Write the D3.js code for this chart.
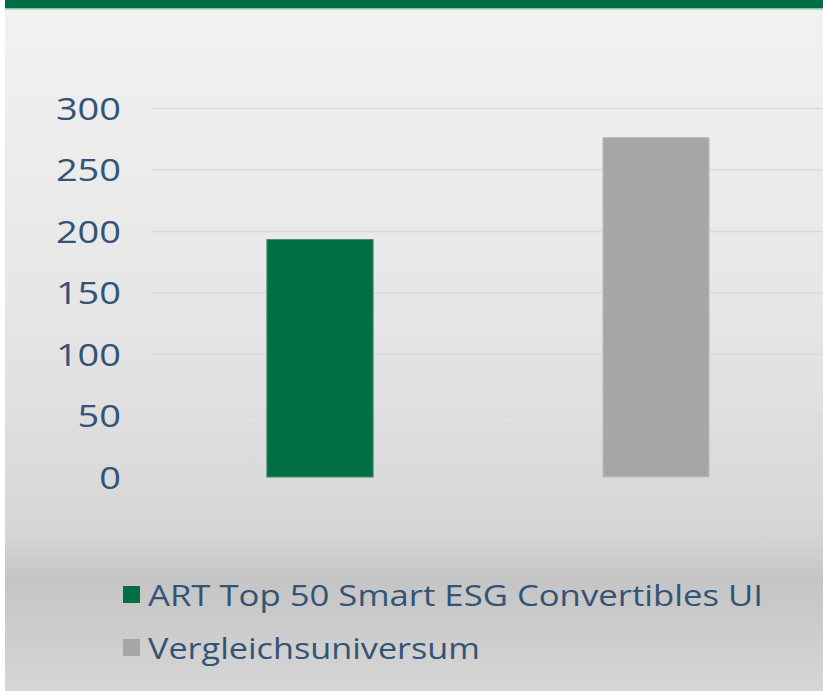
<!DOCTYPE html>
<html><head><meta charset="utf-8">
<script src="https://cdn.jsdelivr.net/npm/d3@7"></script>
<style>html,body{margin:0;padding:0;background:#fff;}svg{display:block;}</style>
</head><body>
<script>
const categories = ["ART Top 50 Smart ESG Convertibles UI", "Vergleichsuniversum"];
const values = [193, 276];
const colors = ["#006f44", "#a6a6a6"];
const yTicks = [0, 50, 100, 150, 200, 250, 300];

const W = 823, H = 691;
const svg = d3.select("body").append("svg").attr("width", W).attr("height", H);
const defs = svg.append("defs");
const g = defs.append("linearGradient").attr("id","bg").attr("x1",0).attr("y1",0).attr("x2",0).attr("y2",1);
[[0,"#f2f2f2"],[0.45,"#e6e6e6"],[0.72,"#d9d9d9"],[0.78,"#d4d4d4"],[0.84,"#c5c5c5"],[0.92,"#cdcdcd"],[1,"#d6d6d6"]]
  .forEach(([o,c]) => g.append("stop").attr("offset",o).attr("stop-color",c));

svg.append("rect").attr("x",5).attr("y",0).attr("width",W-5).attr("height",H).attr("fill","url(#bg)");
svg.append("rect").attr("x",5).attr("y",0).attr("width",W-5).attr("height",8).attr("fill","#006e45");
svg.append("rect").attr("x",5).attr("y",8).attr("width",W-5).attr("height",1.5).attr("fill","#8cc3a8");

const y = d3.scaleLinear().domain([0,300]).range([477,108]);
const x = d3.scaleBand().domain(categories).range([152,824]).paddingInner(0.684).paddingOuter(0.342);

const font = "'Open Sans','Noto Sans',sans-serif";
const txt = "#335475";

const axis = svg.append("g").attr("transform","translate(152,0)")
  .call(d3.axisLeft(y).tickValues(yTicks).tickSize(-(822-152)).tickFormat(d3.format("d")));
axis.select(".domain").remove();
axis.selectAll(".tick line").attr("stroke","#d8d8d8").attr("stroke-width",1.5);
axis.selectAll(".tick text").attr("x",-31).attr("dy","0.36em")
  .attr("fill",txt).style("font-family",font).style("font-size","31px").style("font-weight",400)
  .attr("textLength", d => String(d).length * 21.7).attr("lengthAdjust","spacingAndGlyphs");

svg.append("g").selectAll("rect").data(values).join("rect")
  .attr("x",(d,i)=>x(categories[i])).attr("width",x.bandwidth())
  .attr("y",d=>y(d)).attr("height",d=>y(0)-y(d))
  .attr("fill",(d,i)=>colors[i])
  .attr("stroke",(d,i)=> i===0 ? "#3f8a68" : "#c2c2c2").attr("stroke-width",1);

const legendW = [615, 332];
const leg = svg.append("g");
categories.forEach((c,i)=>{
  const yy = 595 + i*53;
  leg.append("rect").attr("x",123).attr("y",yy-9).attr("width",17).attr("height",17).attr("fill",colors[i]);
  leg.append("text").attr("x",148).attr("y",yy).attr("dy","0.36em")
    .attr("fill",txt).style("font-family",font).style("font-size","30px")
    .attr("textLength",legendW[i]).attr("lengthAdjust","spacingAndGlyphs").text(c);
});
</script>
</body></html>
